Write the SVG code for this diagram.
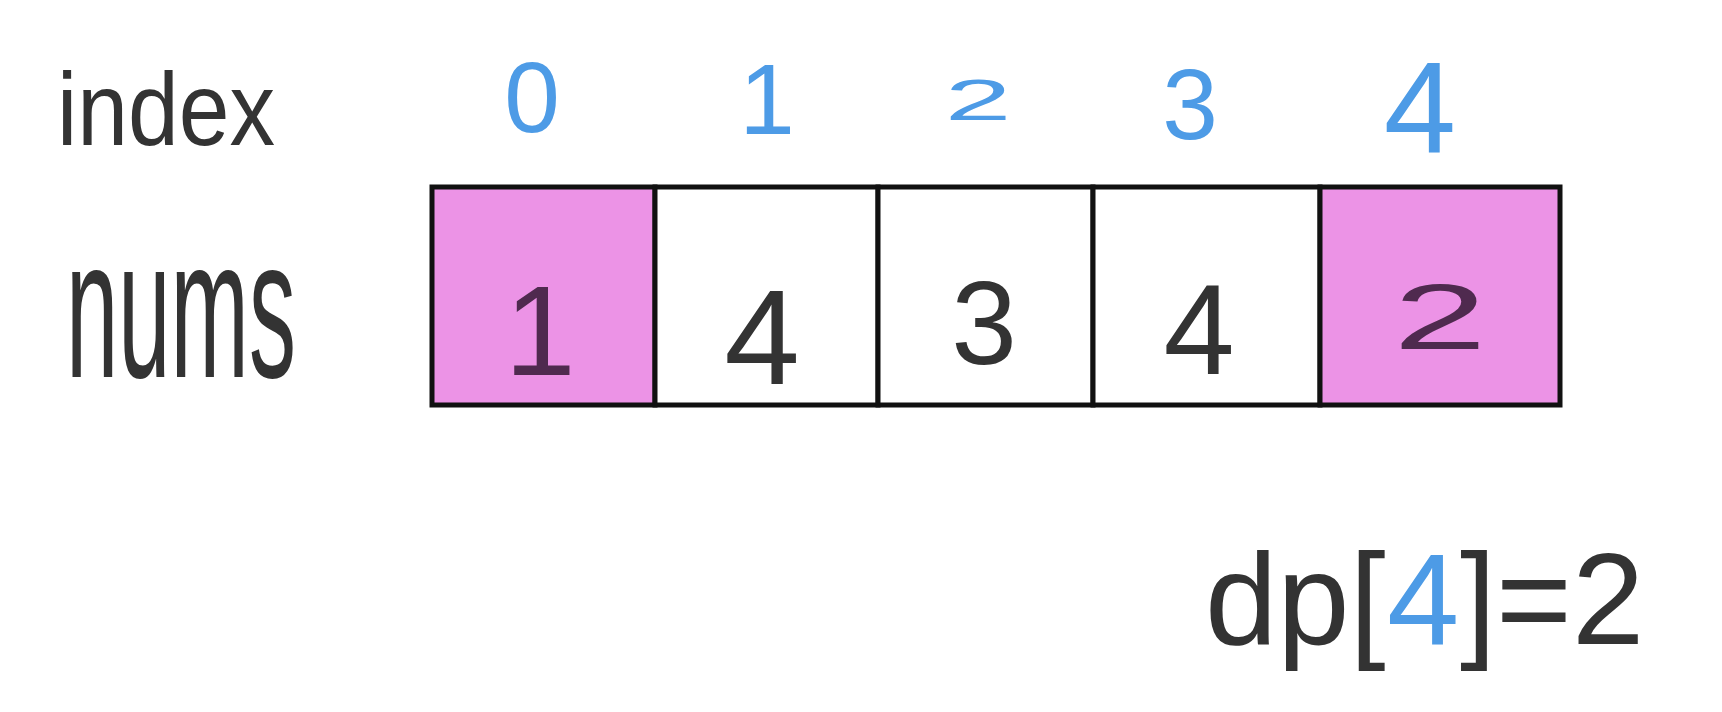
<svg xmlns="http://www.w3.org/2000/svg" width="1722" height="712" viewBox="0 0 1722 712">
<style>
.lbl{font-family:"Liberation Sans","DejaVu Sans",sans-serif;fill:#333333}
.idx{font-family:"Liberation Sans","DejaVu Sans",sans-serif;fill:#4d9be6;text-anchor:middle}
.num{font-family:"Liberation Sans","DejaVu Sans",sans-serif;fill:#333333;text-anchor:middle}
.numhl{fill:#4f2a4f}
.cell{stroke:#111111;stroke-width:5;fill:#ffffff}
.hl{fill:#ec93e6}
.blue{fill:#4d9be6}
</style>
<rect width="1722" height="712" fill="#ffffff"/>
<g id="labels">
<text class="lbl" x="57" y="145" font-size="104" textLength="218" lengthAdjust="spacingAndGlyphs">index</text>
<text class="lbl" font-size="110" transform="translate(66,377) scale(0.855,1.8)">nums</text>
</g>
<g id="index-row">
<text class="idx" x="532" y="132" font-size="100">0</text>
<text class="idx" x="767" y="134" font-size="100">1</text>
<text class="idx" font-size="80" transform="translate(978,120) scale(1.5,0.72)">2</text>
<text class="idx" x="1190" y="139" font-size="100">3</text>
<text class="idx" x="1420" y="152" font-size="130">4</text>
</g>
<g id="cell-0"><rect class="cell hl" x="432" y="187" width="223" height="218"/><text class="num numhl" x="540" y="375" font-size="128">1</text></g>
<g id="cell-1"><rect class="cell" x="655" y="187" width="223" height="218"/><text class="num" x="762" y="384" font-size="136">4</text></g>
<g id="cell-2"><rect class="cell" x="878" y="187" width="215" height="218"/><text class="num" x="984" y="364" font-size="118">3</text></g>
<g id="cell-3"><rect class="cell" x="1093" y="187" width="227" height="218"/><text class="num" x="1199" y="374" font-size="128">4</text></g>
<g id="cell-4"><rect class="cell hl" x="1320" y="187" width="240" height="218"/><text class="num numhl" font-size="120" transform="translate(1440,349) scale(1.4,0.77)">2</text></g>
<g id="connectors"></g>
<g id="result">
<text class="lbl" x="1205" y="644" font-size="130">dp[</text>
<text class="lbl blue" x="1387" y="644" font-size="130">4</text>
<text class="lbl" x="1460" y="644" font-size="130">]=2</text>
</g>
</svg>
